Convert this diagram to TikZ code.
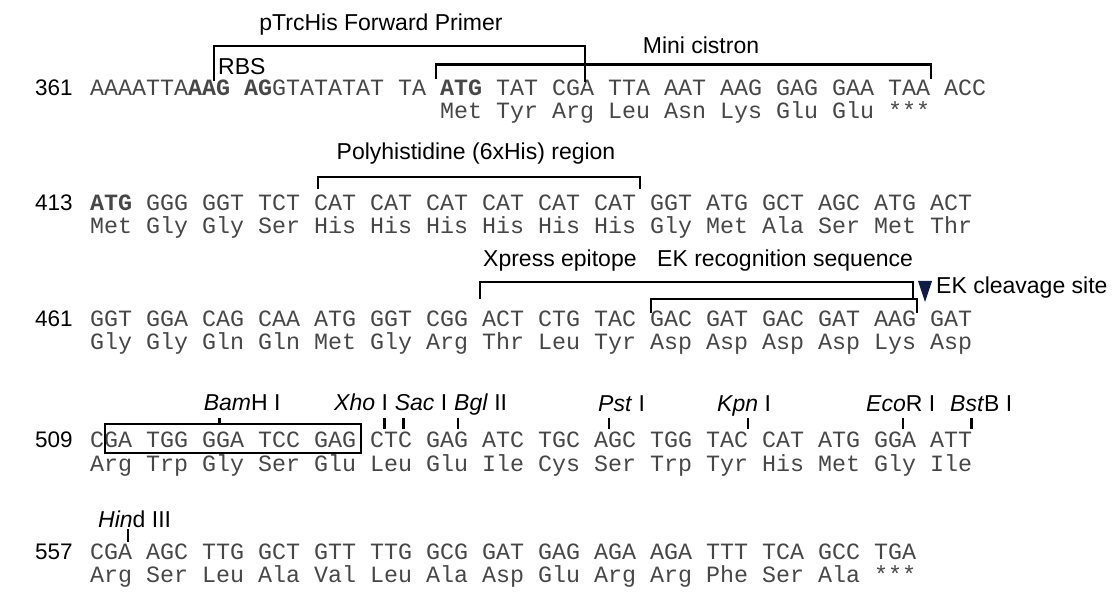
\documentclass[tikz,border=0pt]{standalone}
\usepackage{fontspec}
\setmainfont{Liberation Sans}
\newfontfamily\seqfont{Liberation Mono}
\usetikzlibrary{positioning}

\definecolor{cleave}{RGB}{16,28,72}

\tikzset{
	seq/.style={anchor=base west, inner sep=0pt, text=black!72, text height=14pt, text depth=4pt,
		font=\seqfont\fontsize{23.33}{28}\selectfont},
	num/.style={anchor=base west, inner sep=0pt, font=\fontsize{22.5}{27}\selectfont},
	lbl/.style={anchor=base, inner sep=0pt, font=\fontsize{23}{28}\selectfont},
	site/.style={anchor=base west, inner sep=0pt, font=\fontsize{23}{28}\selectfont},
	brk/.style={line width=2.6pt},
	tick/.style={line width=2.4pt}
}

\begin{document}
\begin{tikzpicture}[x=1pt,y=-1pt]

		\useasboundingbox (0,0) rectangle (1112,601);

		% sequence rows
		\node[seq] (d361) at (90,96) {AAAATTA\textbf{AAG AG}GTATATAT TA \textbf{ATG} TAT CGA TTA AAT AAG GAG GAA TAA ACC};
		\node[seq] (a361) at ([xshift=350pt,yshift=-23pt]d361.base west) {Met Tyr Arg Leu Asn Lys Glu Glu ***};
		\node[num] (n361) at ([xshift=-55pt]d361.base west) {361};

		\node[seq] (d413) at (90,211) {\textbf{ATG} GGG GGT TCT CAT CAT CAT CAT CAT CAT GGT ATG GCT AGC ATG ACT};
		\node[seq] (a413) at ([yshift=-23pt]d413.base west) {Met Gly Gly Ser His His His His His His Gly Met Ala Ser Met Thr};
		\node[num] (n413) at ([xshift=-55pt]d413.base west) {413};

		\node[seq] (d461) at (90,327) {GGT GGA CAG CAA ATG GGT CGG ACT CTG TAC GAC GAT GAC GAT AAG GAT};
		\node[seq] (a461) at ([yshift=-23pt]d461.base west) {Gly Gly Gln Gln Met Gly Arg Thr Leu Tyr Asp Asp Asp Asp Lys Asp};
		\node[num] (n461) at ([xshift=-55pt]d461.base west) {461};

		\node[seq] (d509) at (90,448) {CGA TGG GGA TCC GAG CTC GAG ATC TGC AGC TGG TAC CAT ATG GGA ATT};
		\node[seq] (a509) at ([yshift=-24pt]d509.base west) {Arg Trp Gly Ser Glu Leu Glu Ile Cys Ser Trp Tyr His Met Gly Ile};
		\node[num] (n509) at ([xshift=-55pt]d509.base west) {509};

		\node[seq] (d557) at (90,560) {CGA AGC TTG GCT GTT TTG GCG GAT GAG AGA AGA TTT TCA GCC TGA};
		\node[seq] (a557) at ([yshift=-23pt]d557.base west) {Arg Ser Leu Ala Val Leu Ala Asp Glu Arg Arg Phe Ser Ala ***};
		\node[num] (n557) at ([xshift=-55pt]d557.base west) {557};

		% feature labels and brackets
		\node[lbl] (primer) at (381,31) {pTrcHis Forward Primer};
		\draw[brk] (214,81) -- (214,46) -- (585,46) -- (585,82);
		\node[site, text depth=0pt] (rbs) at (218,75) {RBS};

		\node[lbl] (cistron) at (701,54) {Mini cistron};
		\draw[brk] (436,79) -- (436,64.5) -- (931,64.5) -- (931,79);

		\node[lbl] (hisreg) at (476,160) {Polyhistidine (6xHis) region};
		\draw[brk] (318,189) -- (318,177) -- (640,177) -- (640,189);

		\node[site] (xpress) at (483,267) {Xpress epitope};
		\draw[brk] (480,299) -- (480,282) -- (913,282) -- (913,298);
		\node[site] (ekrec) at (657,267) {EK recognition sequence};
		\draw[brk] (651,313) -- (651,299) -- (917,299) -- (917,313);

		\fill[cleave] (918,281) -- (932,281) -- (925,302) -- cycle;
		\node[site] (ekcut) at (936,294) {EK cleavage site};

		% restriction sites
		\draw[line width=2.6pt] (105,424) rectangle (361,453);
		\node[site] (bam) at (203.6,411) {\textit{Bam}H I};
		\node[site] (xho) at (334,411) {\textit{Xho} I};
		\node[site] (sac) at (394.6,411) {\textit{Sac} I};
		\node[site] (bgl) at (454,411) {\textit{Bgl} II};
		\node[site] (pst) at (598,412) {\textit{Pst} I};
		\node[site] (kpn) at (717,412) {\textit{Kpn} I};
		\node[site] (eco) at (866,412) {\textit{Eco}R I};
		\node[site] (bst) at (950,412) {\textit{Bst}B I};
		\draw[tick] (219.6,418) -- (219.6,424);
		\foreach \x in {384.6,403.6,457.8,609,748,903,971.6} {
		    \draw[tick] (\x,418) -- (\x,429);
		}

		\node[site] (hind) at (98,527.5) {\textit{Hin}d III};
		\draw[tick] (128,529) -- (128,542);

	\end{tikzpicture}
\end{document}
